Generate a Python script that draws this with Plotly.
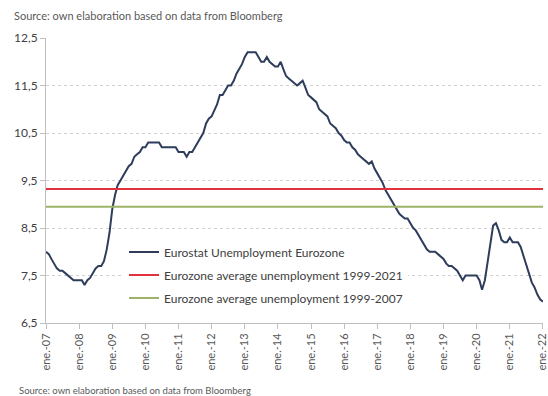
import pandas as pd
import plotly.graph_objects as go

# ---- data ----
months = pd.date_range("2007-01-01", "2022-01-01", freq="MS")

unemployment = [
    # 2007
    8.0, 7.95, 7.85, 7.75, 7.65, 7.6, 7.6, 7.55, 7.5, 7.45, 7.4, 7.4,
    # 2008
    7.4, 7.4, 7.3, 7.4, 7.45, 7.55, 7.65, 7.7, 7.7, 7.8, 8.05, 8.4,
    # 2009
    8.9, 9.2, 9.4, 9.5, 9.6, 9.7, 9.8, 9.85, 10.0, 10.05, 10.1, 10.2,
    # 2010
    10.2, 10.3, 10.3, 10.3, 10.3, 10.3, 10.2, 10.2, 10.2, 10.2, 10.2, 10.2,
    # 2011
    10.1, 10.1, 10.1, 10.0, 10.1, 10.1, 10.2, 10.3, 10.4, 10.5, 10.7, 10.8,
    # 2012
    10.85, 11.0, 11.1, 11.3, 11.3, 11.4, 11.5, 11.5, 11.6, 11.75, 11.85, 11.95,
    # 2013
    12.1, 12.2, 12.2, 12.2, 12.2, 12.1, 12.0, 12.0, 12.1, 12.0, 11.95, 11.9,
    # 2014
    11.9, 12.0, 11.85, 11.7, 11.65, 11.6, 11.55, 11.5, 11.55, 11.6, 11.45, 11.3,
    # 2015
    11.25, 11.2, 11.15, 11.0, 10.95, 10.9, 10.85, 10.7, 10.65, 10.6, 10.5, 10.45,
    # 2016
    10.35, 10.3, 10.3, 10.2, 10.15, 10.05, 10.0, 9.95, 9.9, 9.85, 9.9, 9.75,
    # 2017
    9.65, 9.55, 9.45, 9.3, 9.2, 9.1, 9.0, 8.9, 8.8, 8.75, 8.7, 8.7,
    # 2018
    8.6, 8.5, 8.45, 8.35, 8.25, 8.15, 8.05, 8.0, 8.0, 8.0, 7.95, 7.9,
    # 2019
    7.85, 7.75, 7.7, 7.7, 7.65, 7.6, 7.5, 7.4, 7.5, 7.5, 7.5, 7.5,
    # 2020
    7.5, 7.4, 7.2, 7.4, 7.8, 8.2, 8.55, 8.6, 8.45, 8.25, 8.2, 8.2,
    # 2021
    8.3, 8.2, 8.2, 8.2, 8.1, 7.9, 7.7, 7.5, 7.35, 7.25, 7.1, 7.0,
    # 2022
    6.95,
]

avg_1999_2021 = 9.32
avg_1999_2007 = 8.95

tick_dates = pd.date_range("2007-01-01", "2022-01-01", freq="YS")
tick_labels = ["ene.-%02d" % (d.year % 100) for d in tick_dates]
y_ticks = [6.5, 7.5, 8.5, 9.5, 10.5, 11.5, 12.5]

source_text = "Source: own elaboration based on data from Bloomberg"

# ---- figure ----
fig = go.Figure()

fig.add_trace(go.Scatter(
    x=months, y=unemployment, mode="lines",
    name="Eurostat Unemployment Eurozone",
    line=dict(color="#2E3D5B", width=2),
    legendgroup="a",
))
fig.add_trace(go.Scatter(
    x=[months[0], months[-1] + pd.Timedelta(days=40)],
    y=[avg_1999_2021, avg_1999_2021], mode="lines",
    name="Eurozone average unemployment 1999-2021",
    line=dict(color="#E0323C", width=2),
    legendgroup="b",
))
fig.add_trace(go.Scatter(
    x=[months[0], months[-1] + pd.Timedelta(days=40)],
    y=[avg_1999_2007, avg_1999_2007], mode="lines",
    name="Eurozone average unemployment 1999-2007",
    line=dict(color="#9DB467", width=2),
    legendgroup="c",
))

fig.update_layout(
    width=548, height=396,
    margin=dict(l=46, r=0, t=38, b=73),
    paper_bgcolor="white", plot_bgcolor="white",
    separators=", ",
    font=dict(family="Lato, Open Sans, sans-serif", color="#404040"),
    showlegend=True,
    legend=dict(
        x=0.157, y=0.30, xanchor="left", yanchor="top",
        bgcolor="white", borderwidth=0,
        font=dict(size=12, color="#404040"),
        tracegroupgap=4, traceorder="grouped",
    ),
    annotations=[
        dict(text=source_text, xref="paper", yref="paper",
             x=-46 / 502 + 12 / 502, y=1 + 22 / 285, xanchor="left", yanchor="middle",
             showarrow=False, font=dict(size=11, color="#595959")),
        dict(text=source_text, xref="paper", yref="paper",
             x=-46 / 502 + 17 / 502, y=-67 / 285, xanchor="left", yanchor="middle",
             showarrow=False, font=dict(size=9.5, color="#595959")),
    ],
)

fig.update_xaxes(
    range=[months[0], pd.Timestamp("2022-01-02")],
    tickvals=tick_dates, ticktext=tick_labels,
    tickangle=-90, tickfont=dict(size=11, color="#595959"),
    ticklabeloverflow="allow",
    showgrid=False, showline=True, linecolor="#bfbfbf", linewidth=1,
    ticks="outside", ticklen=5, tickcolor="#bfbfbf",
)
fig.update_yaxes(
    range=[6.5, 12.5],
    tickvals=y_ticks, tickformat=".1f",
    tickfont=dict(size=12, color="#404040"),
    showgrid=True, gridcolor="#d0d0d0", griddash="dot", gridwidth=1,
    showline=True, linecolor="#bfbfbf", linewidth=1,
    ticks="outside", ticklen=5, tickcolor="#bfbfbf",
    zeroline=False,
)

fig.write_html("out.html")
